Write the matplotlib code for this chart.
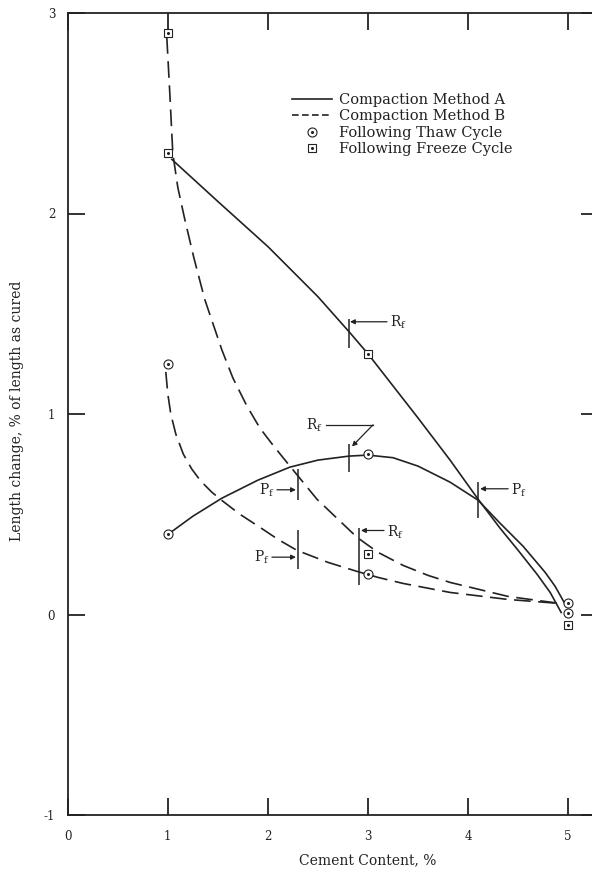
import matplotlib
matplotlib.use("Agg")
import matplotlib.pyplot as plt
from matplotlib.lines import Line2D

plt.rcParams["font.family"] = ["DejaVu Serif"]
plt.rcParams["mathtext.fontset"] = "dejavuserif"
plt.rcParams["axes.unicode_minus"] = False

INK = "#222222"

# measured points
cement_thaw = [1, 1, 3, 3, 5, 5]
length_thaw = [1.25, 0.40, 0.80, 0.20, 0.055, 0.005]
cement_freeze = [1, 1, 3, 3, 5]
length_freeze = [2.90, 2.30, 1.30, 0.30, -0.05]

# Compaction method A, freeze cycle (solid)
a_freeze_x = [1.04, 1.5, 2.0, 2.5, 2.82, 3.0, 3.5, 3.82, 4.1, 4.32, 4.5, 4.69, 4.82, 4.93]
a_freeze_y = [2.27, 2.06, 1.835, 1.585, 1.405, 1.30, 0.98, 0.77, 0.575, 0.43, 0.32, 0.20, 0.11, 0.01]
# Compaction method A, thaw cycle (solid)
a_thaw_x = [1.03, 1.25, 1.54, 1.9, 2.22, 2.5, 2.81, 3.0, 3.25, 3.5, 3.82, 4.1, 4.32, 4.55, 4.77, 4.87, 4.96]
a_thaw_y = [0.41, 0.49, 0.58, 0.67, 0.735, 0.77, 0.79, 0.795, 0.782, 0.74, 0.66, 0.57, 0.455, 0.34, 0.21, 0.14, 0.06]
# Compaction method B, freeze cycle (dashed)
b_freeze_x = [0.99, 1.02, 1.05, 1.10, 1.17, 1.26, 1.37, 1.54, 1.65, 1.79, 1.92, 2.05, 2.22,
              2.49, 2.89, 3.1, 3.35, 3.6, 3.82, 4.4, 4.92]
b_freeze_y = [2.88, 2.60, 2.30, 2.13, 1.97, 1.78, 1.57, 1.32, 1.18, 1.04, 0.93, 0.845, 0.74,
              0.575, 0.385, 0.31, 0.245, 0.195, 0.16, 0.09, 0.055]
# Compaction method B, thaw cycle (dashed)
b_thaw_x = [0.98, 1.00, 1.03, 1.08, 1.155, 1.24, 1.33, 1.44, 1.55, 1.72, 1.92, 2.1, 2.29,
            2.6, 2.89, 3.1, 3.35, 3.82, 4.4, 4.92]
b_thaw_y = [1.21, 1.10, 1.00, 0.90, 0.80, 0.725, 0.665, 0.61, 0.565, 0.50, 0.435, 0.375, 0.32,
            0.26, 0.215, 0.185, 0.155, 0.11, 0.075, 0.055]

# short vertical marks on curves (P_f / R_f points)
mark_x = [2.81, 2.81, 2.30, 2.30, 2.91, 4.10]
mark_lo = [1.33, 0.71, 0.572, 0.228, 0.145, 0.48]
mark_hi = [1.475, 0.85, 0.727, 0.419, 0.43, 0.66]

# straight arrow labels: text, text x, ha, y, arrow start x, arrow end x
lab_text = ["R", "P", "P", "R", "P"]
lab_x = [3.22, 2.07, 2.02, 3.19, 4.43]
lab_ha = ["left", "right", "right", "left", "left"]
lab_y = [1.455, 0.62, 0.285, 0.41, 0.62]
arr_x0 = [3.19, 2.09, 2.04, 3.16, 4.40]
arr_x1 = [2.82, 2.28, 2.28, 2.93, 4.12]
arr_y = [1.46, 0.622, 0.286, 0.419, 0.627]

fig = plt.figure(figsize=(5.92, 8.77), dpi=100)
ax = fig.add_axes([67.7 / 592, 62 / 877, 5.3 * 100.1 / 592, 802 / 877])

dash = (10, 4.5)
ax.plot(a_freeze_x, a_freeze_y, color=INK, lw=1.2)
ax.plot(a_thaw_x, a_thaw_y, color=INK, lw=1.2)
ax.plot(b_freeze_x, b_freeze_y, color=INK, lw=1.2, dashes=dash)
ax.plot(b_thaw_x, b_thaw_y, color=INK, lw=1.2, dashes=dash)

circ = dict(ls="none", marker="o", ms=6.5, mfc="white", mec=INK, mew=0.8)
sq = dict(ls="none", marker="s", ms=6.2, mfc="white", mec=INK, mew=0.8)
dot = dict(ls="none", marker="o", ms=1.2, color=INK)
ax.plot(cement_thaw, length_thaw, zorder=4, **circ)
ax.plot(cement_thaw, length_thaw, zorder=5, **dot)
ax.plot(cement_freeze, length_freeze, zorder=4, **sq)
ax.plot(cement_freeze, length_freeze, zorder=5, **dot)

ax.vlines(mark_x, mark_lo, mark_hi, color=INK, lw=1.1)

aprops = dict(arrowstyle="-|>", lw=0.9, color=INK, mutation_scale=7,
              shrinkA=0, shrinkB=0)
for t, x, ha, y, x0, x1, ya in zip(lab_text, lab_x, lab_ha, lab_y, arr_x0, arr_x1, arr_y):
    ax.text(x, y, rf"$\mathregular{{{t}_f}}$", ha=ha, va="center",
            fontsize=10, color=INK)
    ax.annotate("", xy=(x1, ya), xytext=(x0, ya), arrowprops=aprops)

# bent R_f pointer onto the method A thaw curve
ax.text(2.55, 0.943, r"$\mathregular{R_f}$", ha="right", va="center",
        fontsize=10, color=INK)
ax.plot([2.58, 3.05], [0.946, 0.946], color=INK, lw=0.9)
ax.annotate("", xy=(2.84, 0.838), xytext=(3.05, 0.946), arrowprops=aprops)

ax.set_xlim(0, 5.3)
ax.set_ylim(-1, 3)
ax.set_xticks([0, 1, 2, 3, 4, 5])
ax.set_yticks([-1, 0, 1, 2, 3])
ax.tick_params(direction="in", length=12, width=1.3, top=True, right=True,
               labelsize=8.5, colors=INK)
ax.tick_params(axis="x", pad=11)
ax.tick_params(axis="y", pad=9)
for s in ax.spines.values():
    s.set_linewidth(1.3)
    s.set_color(INK)

fig.text(368 / 592, 1 - 860 / 877, "Cement Content, %", ha="center", va="center",
         fontsize=10, color=INK)
fig.text(17 / 592, 1 - 411 / 877, "Length change, % of length as cured",
         rotation=90, ha="center", va="center", fontsize=10, color=INK)

handles = [
    Line2D([], [], color=INK, lw=1.2),
    Line2D([], [], color=INK, lw=1.2, dashes=(4, 2)),
    (Line2D([], [], **circ), Line2D([], [], **dot)),
    (Line2D([], [], **sq), Line2D([], [], **dot)),
]
labels = ["Compaction Method A", "Compaction Method B",
          "Following Thaw Cycle", "Following Freeze Cycle"]
ax.legend(handles, labels, loc="upper left", frameon=False, fontsize=10.5,
          bbox_to_anchor=(292 / 592, 1 - 93 / 877), bbox_transform=fig.transFigure,
          handlelength=2.75, handletextpad=0.5, labelspacing=0.17, borderaxespad=0,
          borderpad=0, labelcolor=INK)

fig.savefig("out.png", dpi=100)
